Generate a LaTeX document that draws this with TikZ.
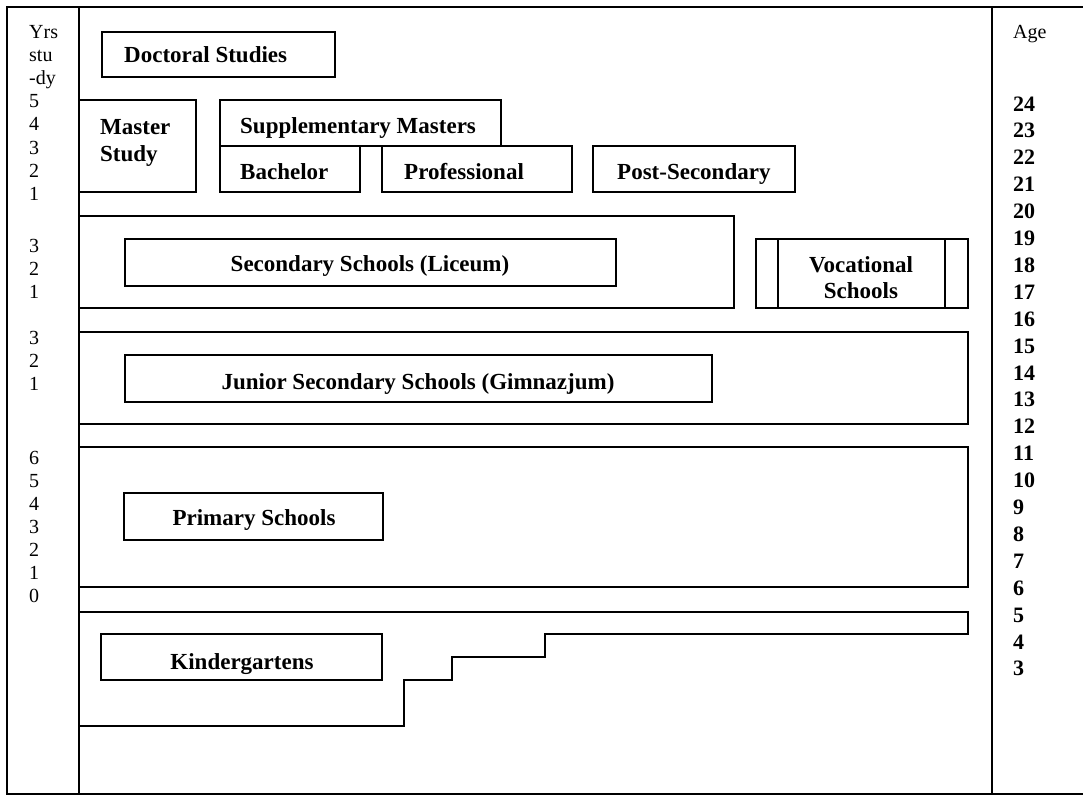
\documentclass[tikz,border=0pt]{standalone}
\usepackage{fontspec}
\setmainfont{Liberation Serif}
\begin{document}
\begin{tikzpicture}[x=1pt,y=-1pt,
  frame/.style={line width=2.4pt},
  box/.style={draw, line width=1.9pt},
  lbl/.style={font=\bfseries\fontsize{23}{27}\selectfont, inner sep=0pt},
  yrs/.style={font=\fontsize{20}{23}\selectfont, anchor=base west, inner sep=0pt},
  age/.style={font=\bfseries\fontsize{22}{26}\selectfont, anchor=base west, inner sep=0pt}]
\useasboundingbox (0,0) rectangle (1083,797);

% outer frame and the two side columns
\draw[frame] (1083,7) -- (7,7) -- (7,794) -- (1083,794);
\draw[frame] (79,7) -- (79,794);
\draw[frame] (992,7) -- (992,794);

% higher education
\draw[box] (102,32) rectangle (335,77);
\node[lbl, anchor=base west] (doc) at (124,63) {Doctoral Studies};
\draw[box] (79,100) rectangle (196,192);
\node[lbl, anchor=base west] (mas1) at (100,135) {Master};
\node[lbl, anchor=base west] (mas2) at (100,161) {Study};
\draw[box] (220,100) rectangle (501,146);
\node[lbl, anchor=base west] (sup) at (240,133) {Supplementary Masters};
\draw[box] (220,146) rectangle (360,192);
\node[lbl, anchor=base west] (bac) at (240,179) {Bachelor};
\draw[box] (382,146) rectangle (572,192);
\node[lbl, anchor=base west] (pro) at (404,179) {Professional};
\draw[box] (593,146) rectangle (795,192);
\node[lbl, anchor=base west] (post) at (617,179) {Post-Secondary};

% secondary level
\draw[box] (79,216) rectangle (734,308);
\draw[box] (125,239) rectangle (616,286);
\node[lbl, anchor=base] (lic) at (370,271) {Secondary Schools (Liceum)};
\draw[box] (756,239) rectangle (968,308);
\draw[box] (778,239) -- (778,308) (945,239) -- (945,308);
\node[lbl, anchor=base] (voc1) at (861,272) {Vocational};
\node[lbl, anchor=base] (voc2) at (861,298) {Schools};

% lower secondary
\draw[box] (79,332) rectangle (968,424);
\draw[box] (125,355) rectangle (712,402);
\node[lbl, anchor=base] (gim) at (418,389) {Junior Secondary Schools (Gimnazjum)};

% primary
\draw[box] (79,447) rectangle (968,587);
\draw[box] (124,493) rectangle (383,540);
\node[lbl, anchor=base] (pri) at (254,525) {Primary Schools};

% pre-school, stepped by age
\draw[box, line join=miter] (79,612) -- (968,612) -- (968,634) -- (545,634) -- (545,657)
  -- (452,657) -- (452,680) -- (404,680) -- (404,726) -- (79,726);
\draw[box] (101,634) rectangle (382,680);
\node[lbl, anchor=base] (kin) at (242,669) {Kindergartens};

% years of study
\node[yrs] (y1) at (29,39) {Yrs};
\node[yrs] (y2) at (29,62) {stu};
\node[yrs] (y3) at (29,85) {-dy};
\foreach \n [count=\i from 0] in {5,4,3,2,1}
  \node[yrs] (ya\i) at (29,108+23*\i) {\n};
\foreach \n [count=\i from 0] in {3,2,1}
  \node[yrs] (yb\i) at (29,252+23*\i) {\n};
\foreach \n [count=\i from 0] in {3,2,1}
  \node[yrs] (yc\i) at (29,344+23*\i) {\n};
\foreach \n [count=\i from 0] in {6,5,4,3,2,1,0}
  \node[yrs] (yd\i) at (29,464+23*\i) {\n};

% age
\node[yrs] (agehead) at (1013,39) {Age};
\foreach \a [count=\i from 0] in {24,23,...,3}
  \node[age] (a\a) at (1013,111+26.9*\i) {\a};
\end{tikzpicture}
\end{document}
